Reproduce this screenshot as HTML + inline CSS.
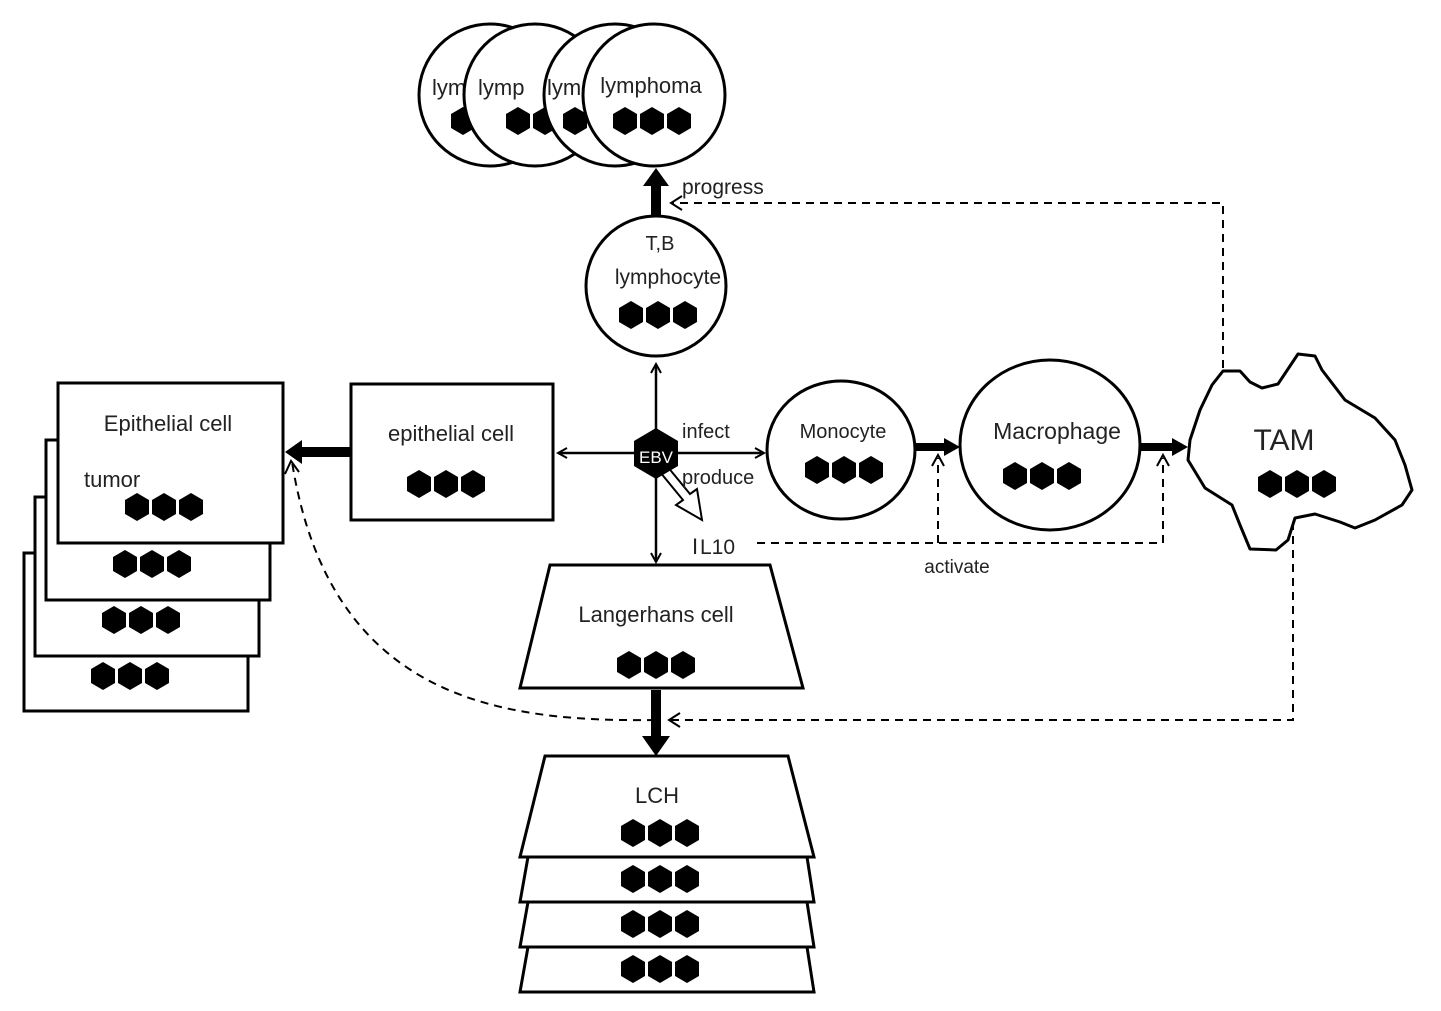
<!DOCTYPE html>
<html><head><meta charset="utf-8"><style>
html,body{margin:0;padding:0;background:#fff;}
svg{display:block;}
text{font-family:"Liberation Sans","DejaVu Sans",sans-serif;fill:#222;}
</style></head><body>
<svg width="1441" height="1011" viewBox="0 0 1441 1011" xmlns="http://www.w3.org/2000/svg">
<defs>
<polygon id="hx" points="0,-14 12,-7 12,7 0,14 -12,7 -12,-7" fill="#000"/>
<g id="h3"><use href="#hx" x="-27"/><use href="#hx" x="0"/><use href="#hx" x="27"/></g>
<marker id="ao" markerWidth="12" markerHeight="12" refX="10" refY="6" orient="auto" markerUnits="userSpaceOnUse"><path d="M1,1 L10,6 L1,11" fill="none" stroke="#000" stroke-width="2"/></marker>
</defs>
<g stroke="#000" stroke-width="3" fill="#fff"><circle cx="490" cy="95" r="71"/></g>
<text x="432" y="95" font-size="22">lym</text>
<use href="#h3" x="490" y="121"/>
<g stroke="#000" stroke-width="3" fill="#fff"><circle cx="535" cy="95" r="71"/></g>
<text x="478" y="95" font-size="22">lymp</text>
<use href="#h3" x="545" y="121"/>
<g stroke="#000" stroke-width="3" fill="#fff"><circle cx="615" cy="95" r="71"/></g>
<text x="547" y="95" font-size="22">lym</text>
<use href="#h3" x="602" y="121"/>
<g stroke="#000" stroke-width="3" fill="#fff"><circle cx="654" cy="95" r="71"/></g>
<text x="651" y="93" font-size="22" text-anchor="middle">lymphoma</text>
<use href="#h3" x="652" y="121"/>

<line x1="656" y1="215" x2="656" y2="185" stroke="#000" stroke-width="10"/>
<path d="M643,186 L656,168 L669,186 Z" fill="#000"/>
<text x="682" y="194" font-size="21">progress</text>

<circle cx="656" cy="286" r="70" fill="#fff" stroke="#000" stroke-width="3"/>
<text x="660" y="250" font-size="20" text-anchor="middle">T,B</text>
<text x="668" y="284" font-size="21" text-anchor="middle">lymphocyte</text>
<use href="#h3" x="658" y="315"/>

<g stroke="#000" stroke-width="3" fill="#fff">
<rect x="24" y="553" width="224" height="158"/>
<rect x="35" y="497" width="224" height="159"/>
<rect x="46" y="440" width="224" height="160"/>
<rect x="58" y="383" width="225" height="160"/>
</g>
<use href="#h3" x="130" y="676"/>
<use href="#h3" x="141" y="620"/>
<use href="#h3" x="152" y="564"/>
<use href="#h3" x="164" y="507"/>
<text x="168" y="431" font-size="22" text-anchor="middle">Epithelial cell</text>
<text x="84" y="487" font-size="22">tumor</text>

<rect x="351" y="384" width="202" height="136" fill="#fff" stroke="#000" stroke-width="3"/>
<text x="451" y="441" font-size="22" text-anchor="middle">epithelial cell</text>
<use href="#h3" x="446" y="484"/>
<line x1="350" y1="452" x2="300" y2="452" stroke="#000" stroke-width="10"/>
<path d="M302,440 L285,452 L302,464 Z" fill="#000"/>

<g stroke="#000" stroke-width="2.5" fill="none">
<line x1="656" y1="453" x2="656" y2="364" marker-end="url(#ao)"/>
<line x1="656" y1="453" x2="558" y2="453" marker-end="url(#ao)"/>
<line x1="656" y1="453" x2="764" y2="453" marker-end="url(#ao)"/>
<line x1="656" y1="453" x2="656" y2="562" marker-end="url(#ao)"/>
</g>
<path d="M660,472 L667,466 L690,494 L697,489 L702,520 L676,505 L683,500 Z" fill="#fff" stroke="#000" stroke-width="2"/>
<polygon points="656,428 678,441 678,466 656,479 634,466 634,441" fill="#000"/>
<text x="656" y="463" font-size="17" text-anchor="middle" style="fill:#fff">EBV</text>
<text x="682" y="438" font-size="20">infect</text>
<text x="682" y="484" font-size="20">produce</text>
<text x="692" y="554" font-size="22" font-family="Liberation Serif">I</text>
<text x="700" y="554" font-size="21">L10</text>

<ellipse cx="841" cy="450" rx="74" ry="69" fill="#fff" stroke="#000" stroke-width="3"/>
<text x="843" y="438" font-size="20" text-anchor="middle">Monocyte</text>
<use href="#h3" x="844" y="470"/>
<ellipse cx="1050" cy="445" rx="90" ry="85" fill="#fff" stroke="#000" stroke-width="3"/>
<text x="1057" y="439" font-size="23" text-anchor="middle">Macrophage</text>
<use href="#h3" x="1042" y="476"/>
<line x1="916" y1="447" x2="945" y2="447" stroke="#000" stroke-width="8"/>
<path d="M944,438 L960,447 L944,456 Z" fill="#000"/>
<line x1="1140" y1="447" x2="1172" y2="447" stroke="#000" stroke-width="8"/>
<path d="M1172,438 L1188,447 L1172,456 Z" fill="#000"/>

<path d="M1223,371 L1240,371 L1250,382 L1262,388 L1278,384 L1290,366 L1298,354 L1315,356 L1322,370 L1345,400 L1375,418 L1395,440 L1405,465 L1412,490 L1402,505 L1375,520 L1355,528 L1340,522 L1315,514 L1295,518 L1288,540 L1276,550 L1250,549 L1240,525 L1232,505 L1205,488 L1188,460 L1190,440 L1200,410 L1212,385 Z" fill="#fff" stroke="#000" stroke-width="3" stroke-linejoin="round"/>
<text x="1284" y="450" font-size="30" text-anchor="middle">TAM</text>
<use href="#h3" x="1297" y="484"/>

<g stroke="#000" stroke-width="2" fill="none" stroke-dasharray="8,6">
<polyline points="1223,368 1223,203 672,203"/>
<polyline points="1293,522 1293,720 670,720"/>
<path d="M655,720 C500,722 330,700 292,462"/>
<polyline points="757,543 1163,543 1163,458"/>
<line x1="938" y1="543" x2="938" y2="458"/>
</g>
<g stroke="#000" stroke-width="2" fill="none">
<path d="M682,196 L671,203 L682,210"/>
<path d="M680,713 L669,720 L680,727"/>
<path d="M285,474 L291,461 L299,472"/>
<path d="M932,466 L938,455 L944,466"/>
<path d="M1157,466 L1163,455 L1169,466"/>
</g>
<text x="957" y="573" font-size="19" text-anchor="middle">activate</text>

<polygon points="550,565 770,565 803,688 520,688" fill="#fff" stroke="#000" stroke-width="3"/>
<text x="656" y="622" font-size="22" text-anchor="middle">Langerhans cell</text>
<use href="#h3" x="656" y="665"/>
<line x1="656" y1="690" x2="656" y2="738" stroke="#000" stroke-width="10"/>
<path d="M642,736 L656,756 L670,736 Z" fill="#000"/>

<g stroke="#000" stroke-width="3" fill="#fff">
<polygon points="528,947 807,947 814,992 520,992"/>
<polygon points="528,902 807,902 814,947 520,947"/>
<polygon points="528,857 807,857 814,902 520,902"/>
<polygon points="545,756 788,756 814,857 520,857"/>
</g>
<text x="657" y="803" font-size="22" text-anchor="middle">LCH</text>
<use href="#h3" x="660" y="833"/>
<use href="#h3" x="660" y="879"/>
<use href="#h3" x="660" y="924"/>
<use href="#h3" x="660" y="969"/>
</svg>
</body></html>
